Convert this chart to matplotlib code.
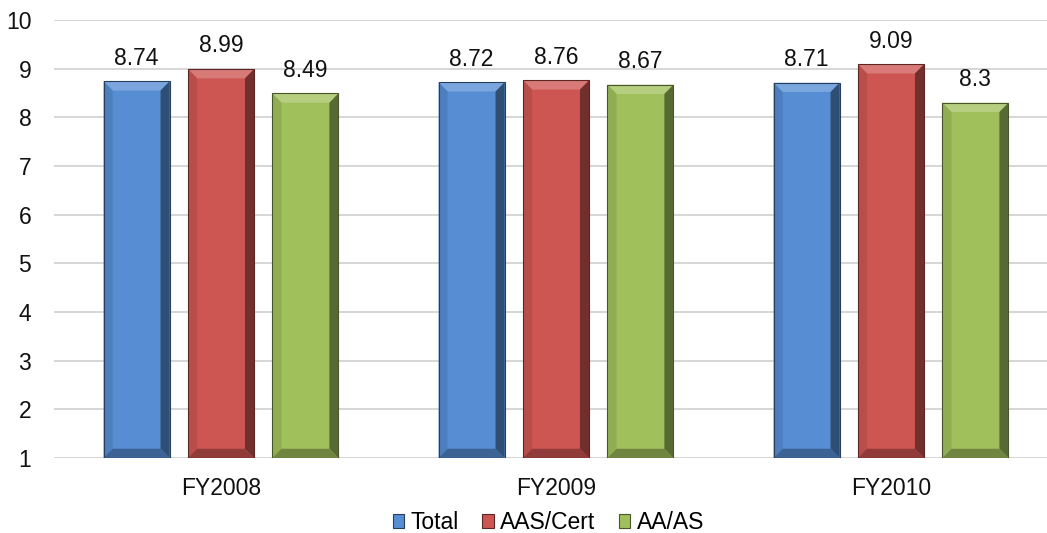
import matplotlib.pyplot as plt
import numpy as np
from matplotlib.patches import Polygon, Rectangle

plt.rcParams['font.family'] = ['Liberation Sans', 'DejaVu Sans']

years = ['FY2008', 'FY2009', 'FY2010']
series = ['Total', 'AAS/Cert', 'AA/AS']
total = [8.74, 8.72, 8.71]
aas_cert = [8.99, 8.76, 9.09]
aa_as = [8.49, 8.67, 8.3]
colors = ['#568dd3', '#cd5552', '#a0c05c']

def shade(c, f):
    c = np.array(plt.matplotlib.colors.to_rgb(c))
    if f > 0:
        c = c + (1 - c) * f
    else:
        c = c * (1 + f)
    return tuple(np.clip(c, 0, 1))

def bevel_bar(ax, x0, w, y0, y1, color, bx, by):
    x1 = x0 + w
    ax.add_patch(Rectangle((x0, y0), w, y1 - y0, facecolor=color, edgecolor='none', zorder=3))
    # top, left, right, bottom bevels
    ax.add_patch(Polygon([(x0, y1), (x1, y1), (x1 - bx, y1 - by), (x0 + bx, y1 - by)],
                         facecolor=shade(color, 0.22), edgecolor='none', zorder=4))
    ax.add_patch(Polygon([(x0, y0), (x0, y1), (x0 + bx, y1 - by), (x0 + bx, y0 + by)],
                         facecolor=shade(color, -0.1), edgecolor='none', zorder=4))
    ax.add_patch(Polygon([(x1, y0), (x1, y1), (x1 - bx, y1 - by), (x1 - bx, y0 + by)],
                         facecolor=shade(color, -0.45), edgecolor='none', zorder=4))
    ax.add_patch(Polygon([(x0, y0), (x1, y0), (x1 - bx, y0 + by), (x0 + bx, y0 + by)],
                         facecolor=shade(color, -0.3), edgecolor='none', zorder=4))
    ax.add_patch(Rectangle((x0, y0), w, y1 - y0, facecolor='none',
                           edgecolor=shade(color, -0.55), lw=0.8, zorder=5))

fig = plt.figure(figsize=(10.47, 5.33), dpi=100)
ax = fig.add_axes([0.0511, 0.1407, 0.9599, 0.8218])

x = np.arange(len(years))
width = 0.197
pitch = 0.252
bx, by = 0.027, 0.19
for i, vals in enumerate([total, aas_cert, aa_as]):
    for j, v in enumerate(vals):
        xc = x[j] + (i - 1) * pitch
        bevel_bar(ax, xc - width / 2, width, 1, v, colors[i], bx, by)
        ax.annotate(f'{v:g}', (xc, v), xytext=(0, 12), textcoords='offset points',
                    ha='center', va='baseline', fontsize=16.5, color='#111111')

ax.set_xlim(-0.5, 2.5)
ax.set_ylim(1, 10)
ax.set_yticks(range(1, 11))
ax.set_xticks(x)
ax.set_xticklabels(years)
ax.yaxis.grid(True, color='#d0d0d0', lw=1.2, zorder=0)
for s in ax.spines.values():
    s.set_visible(False)
ax.tick_params(axis='both', length=0, labelsize=16.5, colors='#111111')
ax.tick_params(axis='y', pad=16)
ax.tick_params(axis='x', pad=14)

handles = [Rectangle((0, 0), 1, 1, facecolor=c, edgecolor=shade(c, -0.55), lw=0.8) for c in colors]
ax.legend(handles, series, loc='center', bbox_to_anchor=(0.4925, -0.1475), ncol=3,
          frameon=False, fontsize=16.5, handlelength=0.5, handleheight=0.5,
          handletextpad=0.3, columnspacing=1.0, borderpad=0)

fig.savefig('out.png', dpi=100)
